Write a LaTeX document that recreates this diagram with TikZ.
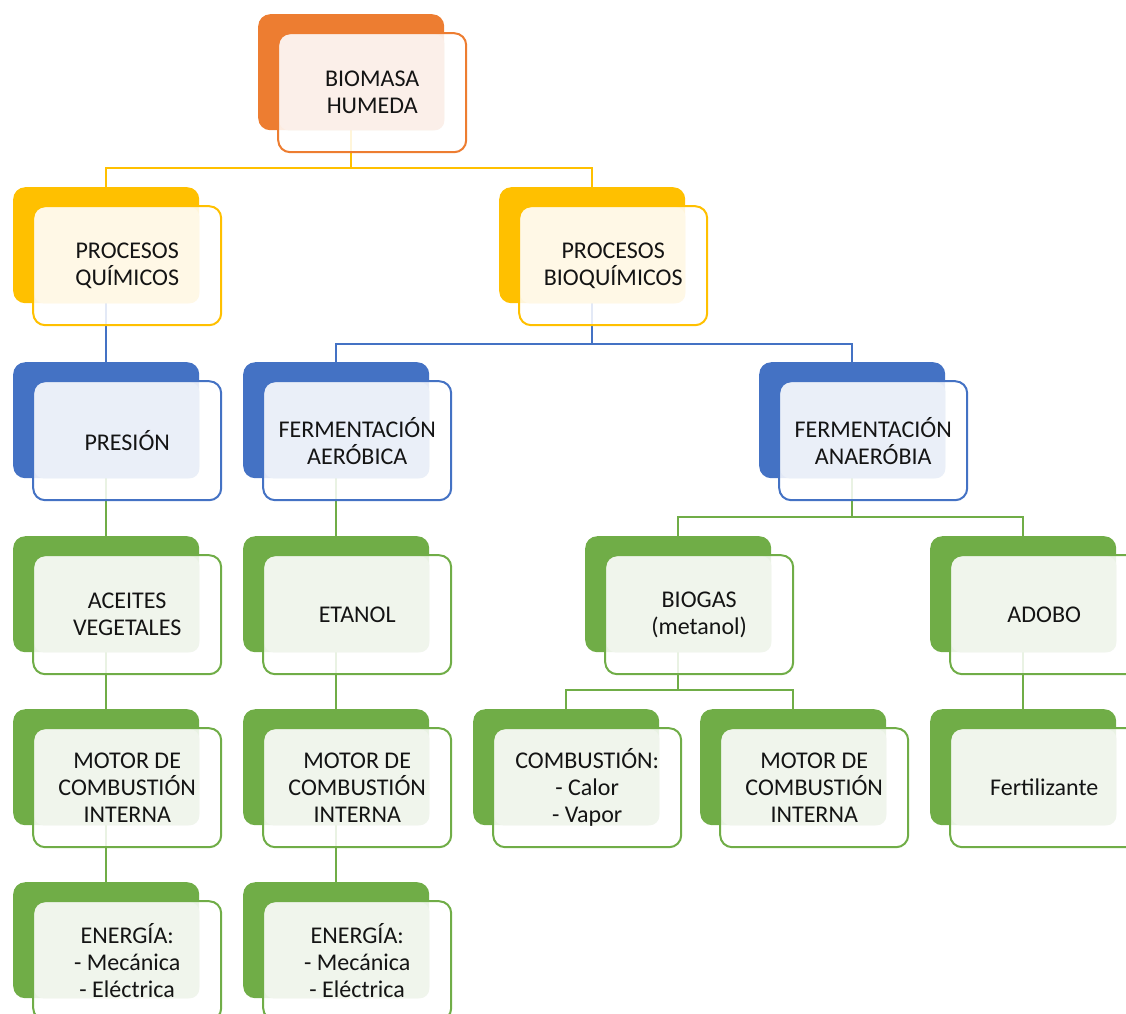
\documentclass[tikz,border=0pt]{standalone}
\usepackage{fontspec}
\setmainfont{Carlito}
\usetikzlibrary{backgrounds}
\definecolor{cOr}{HTML}{ED7D31}\definecolor{tOr}{HTML}{FBEFE9}
\definecolor{cGo}{HTML}{FFC000}\definecolor{tGo}{HTML}{FFF8E6}
\definecolor{cBl}{HTML}{4472C4}\definecolor{tBl}{HTML}{EAEFF8}
\definecolor{cGr}{HTML}{70AD47}\definecolor{tGr}{HTML}{F0F5EC}
\definecolor{txt}{HTML}{141414}
\tikzset{
  backbox/.style={anchor=north west,minimum width=186pt,minimum height=116pt,inner sep=0pt,rounded corners=12pt,draw=none},
  frontfill/.style={anchor=north west,minimum width=188pt,minimum height=119pt,inner sep=0pt,rounded corners=12pt,fill=white,fill opacity=0.85,draw=none},
  frontbox/.style={anchor=center,minimum width=188pt,minimum height=119pt,inner sep=0pt,rounded corners=12pt,line width=2pt,align=center,text=txt,font=\fontsize{24}{27}\selectfont},
  conn/.style={line width=2pt},
}
\newcommand\unitbox[6]{%
  \node[backbox,fill=#4] (#1) at (#2,-#3) {};
  \node[frontfill] (#1f) at (#2+20,-#3-19) {};
  \fill[#5,rounded corners=10pt] ([shift={(1,-1)}]#1f.north west) rectangle (#1.south east);
  \node[frontbox,draw=#4] (#1t) at (#1f.center) {#6};
}
\begin{document}
\begin{tikzpicture}[x=1pt,y=1pt]
\useasboundingbox (0,0) rectangle (1126,-1013);
% boxes
\unitbox{bio}{258}{14}{cOr}{tOr}{BIOMASA\\HUMEDA}
\unitbox{q}{13}{187}{cGo}{tGo}{PROCESOS\\QUÍMICOS}
\unitbox{bq}{499}{187}{cGo}{tGo}{PROCESOS\\BIOQUÍMICOS}
\unitbox{pre}{13}{362}{cBl}{tBl}{PRESIÓN}
\unitbox{aer}{243}{362}{cBl}{tBl}{FERMENTACIÓN\\AERÓBICA}
\unitbox{ana}{759}{362}{cBl}{tBl}{FERMENTACIÓN\\ANAERÓBIA}
\unitbox{ace}{13}{536}{cGr}{tGr}{ACEITES\\VEGETALES}
\unitbox{eta}{243}{536}{cGr}{tGr}{ETANOL}
\unitbox{bgs}{585}{536}{cGr}{tGr}{BIOGAS\\(metanol)}
\unitbox{ado}{930}{536}{cGr}{tGr}{ADOBO}
\unitbox{mo1}{13}{709}{cGr}{tGr}{MOTOR DE\\COMBUSTIÓN\\INTERNA}
\unitbox{mo2}{243}{709}{cGr}{tGr}{MOTOR DE\\COMBUSTIÓN\\INTERNA}
\unitbox{com}{473}{709}{cGr}{tGr}{COMBUSTIÓN:\\- Calor\\- Vapor}
\unitbox{mo3}{700}{709}{cGr}{tGr}{MOTOR DE\\COMBUSTIÓN\\INTERNA}
\unitbox{fer}{930}{709}{cGr}{tGr}{Fertilizante}
\unitbox{en1}{13}{882}{cGr}{tGr}{ENERGÍA:\\- Mecánica\\- Eléctrica}
\unitbox{en2}{243}{882}{cGr}{tGr}{ENERGÍA:\\- Mecánica\\- Eléctrica}
% connectors behind the boxes
\begin{pgfonlayer}{background}
\draw[conn,cGo] (bio.south) -- ++(0,-38) coordinate (j1) -| (q.north);
\draw[conn,cGo] (j1) -| (bq.north);
\draw[conn,cBl] (q.south) -- (pre.north);
\draw[conn,cBl] (bq.south) -- ++(0,-41) coordinate (j2) -| (aer.north);
\draw[conn,cBl] (j2) -| (ana.north);
\draw[conn,cGr] (pre.south) -- (ace.north);
\draw[conn,cGr] (aer.south) -- (eta.north);
\draw[conn,cGr] (ana.south) -- ++(0,-39) coordinate (j3) -| (bgs.north);
\draw[conn,cGr] (j3) -| (ado.north);
\draw[conn,cGr] (ace.south) -- (mo1.north);
\draw[conn,cGr] (eta.south) -- (mo2.north);
\draw[conn,cGr] (bgs.south) -- ++(0,-38) coordinate (j4) -| (com.north);
\draw[conn,cGr] (j4) -| (mo3.north);
\draw[conn,cGr] (ado.south) -- (fer.north);
\draw[conn,cGr] (mo1.south) -- (en1.north);
\draw[conn,cGr] (mo2.south) -- (en2.north);
\end{pgfonlayer}
\end{tikzpicture}
\end{document}
